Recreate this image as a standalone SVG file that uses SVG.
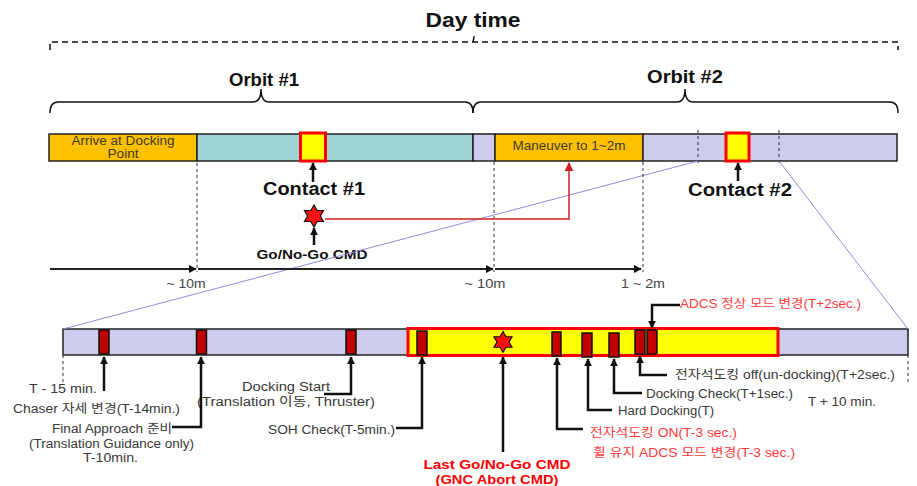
<svg xmlns="http://www.w3.org/2000/svg" width="917" height="486" viewBox="0 0 917 486">
<style>
.t{font-family:"Liberation Sans","Noto Sans CJK KR",Arial,sans-serif;}
.b{font-weight:bold;fill:#111;}
.s{font-size:12.5px;fill:#383838;}
.r{font-size:12.5px;fill:#ff3a3a;}
.seg{stroke:#222;stroke-width:1.5;}
.or{fill:#ffc000;}
.te{fill:#9fd3d6;}
.la{fill:#ccccec;}
.hl{fill:#ffff00;stroke:#ff0000;stroke-width:3;}
.mk{fill:#c00000;stroke:#111;stroke-width:1.5;}
.ar{fill:none;stroke:#111;stroke-width:2.5;}
.tl{fill:none;stroke:#222;stroke-width:2;}
.dv{fill:none;stroke:#333;stroke-width:1;stroke-dasharray:3,3;}
.bl{fill:none;stroke:#8c8ce0;stroke-width:1;}
.star{fill:#ff1010;stroke:#111;stroke-width:1.2;}
</style>
<defs>
<marker id="ah" viewBox="0 0 10 10" refX="9" refY="5" markerWidth="8" markerHeight="8" markerUnits="userSpaceOnUse" orient="auto"><path d="M0,0 L10,5 L0,10 z" fill="#111"/></marker>
<marker id="ahr" viewBox="0 0 10 10" refX="9" refY="5" markerWidth="9" markerHeight="9" markerUnits="userSpaceOnUse" orient="auto"><path d="M0,0 L10,5 L0,10 z" fill="#cc2020"/></marker>
<path id="star6" d="M0,-11 L3.18,-5.5 L9.53,-5.5 L6.35,0 L9.53,5.5 L3.18,5.5 L0,11 L-3.18,5.5 L-9.53,5.5 L-6.35,0 L-9.53,-5.5 L-3.18,-5.5 Z"/>
</defs>
<rect width="917" height="486" fill="#fff"/>

<g id="daytime">
<path d="M50,50 L50,42 L898,42 L898,50 M473,42 L475,32" fill="none" stroke="#111" stroke-width="1.5" stroke-dasharray="6,4"/>
<text class="t b" x="473" y="27" font-size="21" text-anchor="middle" textLength="95" lengthAdjust="spacingAndGlyphs">Day time</text>
</g>

<g id="orbit1">
<path d="M50,113 Q50,102 58,102 L253,102 Q261,102 261,89 Q261,102 269,102 L465,102 Q473,102 473,113" fill="none" stroke="#111" stroke-width="1.5"/>
<text class="t b" x="264" y="86" font-size="18" text-anchor="middle" textLength="70" lengthAdjust="spacingAndGlyphs">Orbit #1</text>
</g>
<g id="orbit2">
<path d="M473,113 Q473,102 481,102 L677,102 Q685,102 685,89 Q685,102 693,102 L890,102 Q898,102 898,113" fill="none" stroke="#111" stroke-width="1.5"/>
<text class="t b" x="685" y="83" font-size="18" text-anchor="middle" textLength="76" lengthAdjust="spacingAndGlyphs">Orbit #2</text>
</g>

<g id="topbar">
<rect class="seg or" x="49" y="134" width="148" height="27"/>
<rect class="seg te" x="197" y="134" width="276" height="27"/>
<rect class="seg la" x="473" y="134" width="22" height="27"/>
<rect class="seg or" x="495" y="134" width="148" height="27"/>
<rect class="seg la" x="643" y="134" width="254" height="27"/>
<text class="t" x="123" y="145" font-size="12" fill="#3d3a2a" text-anchor="middle" textLength="103" lengthAdjust="spacingAndGlyphs">Arrive at Docking</text>
<text class="t" x="123" y="158" font-size="12" fill="#3d3a2a" text-anchor="middle" textLength="31" lengthAdjust="spacingAndGlyphs">Point</text>
<text class="t" x="569" y="150" font-size="12" fill="#3d3a2a" text-anchor="middle" textLength="113" lengthAdjust="spacingAndGlyphs">Maneuver to 1~2m</text>
<path class="dv" d="M698,130 L698,163 M779,130 L779,163"/>
</g>

<g id="contact1">
<rect class="hl" x="300.5" y="133" width="25" height="28"/>
<text class="t b" x="314" y="195" font-size="18" text-anchor="middle" textLength="102" lengthAdjust="spacingAndGlyphs">Contact #1</text>
</g>
<g id="contact2">
<rect class="hl" x="726" y="133" width="23" height="28"/>
<text class="t b" x="740" y="196" font-size="18" text-anchor="middle" textLength="104" lengthAdjust="spacingAndGlyphs">Contact #2</text>
</g>

<g id="gonogo">
<use href="#star6" class="star" transform="translate(314,216)"/>
<text class="t b" x="312" y="259" font-size="13" text-anchor="middle" textLength="111" lengthAdjust="spacingAndGlyphs">Go/No-Go CMD</text>
</g>

<g id="timeline-labels">
<text class="t" x="186" y="288" font-size="12" fill="#444" text-anchor="middle" textLength="39" lengthAdjust="spacingAndGlyphs">~ 10m</text>
<text class="t" x="485" y="288" font-size="12" fill="#444" text-anchor="middle" textLength="41" lengthAdjust="spacingAndGlyphs">~ 10m</text>
<text class="t" x="643" y="288" font-size="12" fill="#444" text-anchor="middle" textLength="44" lengthAdjust="spacingAndGlyphs">1 ~ 2m</text>
</g>

<g id="bottombar">
<rect class="seg la" x="63" y="329" width="845" height="26"/>
<rect class="hl" x="408" y="328.5" width="370" height="27"/>
<rect class="mk" x="99" y="330" width="10" height="24"/>
<rect class="mk" x="196.5" y="330" width="10" height="24"/>
<rect class="mk" x="346" y="330" width="10" height="24"/>
<rect class="mk" x="417" y="331" width="10" height="24"/>
<rect class="mk" x="552" y="332" width="9" height="24"/>
<rect class="mk" x="582" y="333" width="10" height="24"/>
<rect class="mk" x="609" y="333" width="10" height="24"/>
<rect class="mk" x="635" y="330" width="10" height="24"/>
<rect class="mk" x="647" y="330" width="10" height="24"/>
<use href="#star6" class="star" transform="translate(503,342) scale(0.95)"/>
<path class="dv" d="M63,355 L63,382 M908,355 L908,384"/>
</g>

<g id="lbl-t15"><text class="t s" x="63" y="393" text-anchor="middle" textLength="68" lengthAdjust="spacingAndGlyphs">T - 15 min.</text></g>
<g id="lbl-chaser"><text class="t s" x="13" y="413" textLength="167" lengthAdjust="spacingAndGlyphs">Chaser 자세 변경(T-14min.)</text></g>
<g id="lbl-final">
<text class="t s" x="52" y="433" textLength="120" lengthAdjust="spacingAndGlyphs">Final Approach 준비</text>
<text class="t s" x="29" y="448" textLength="165" lengthAdjust="spacingAndGlyphs">(Translation Guidance only)</text>
<text class="t s" x="83" y="462" textLength="55" lengthAdjust="spacingAndGlyphs">T-10min.</text>
</g>
<g id="lbl-dockstart">
<text class="t s" x="242" y="391" textLength="88" lengthAdjust="spacingAndGlyphs">Docking Start</text>
<text class="t s" x="197" y="406" textLength="178" lengthAdjust="spacingAndGlyphs">(Translation 이동, Thruster)</text>
</g>
<g id="lbl-soh"><text class="t s" x="268" y="434" textLength="127" lengthAdjust="spacingAndGlyphs">SOH Check(T-5min.)</text></g>
<g id="lbl-last">
<text class="t" x="497" y="469" font-size="13.5" font-weight="bold" fill="#ff0000" text-anchor="middle" textLength="147" lengthAdjust="spacingAndGlyphs">Last Go/No-Go CMD</text>
<text class="t" x="497" y="484" font-size="13.5" font-weight="bold" fill="#ff0000" text-anchor="middle" textLength="123" lengthAdjust="spacingAndGlyphs">(GNC Abort CMD)</text>
</g>
<g id="lbl-emon">
<text class="t r" x="590" y="437" textLength="147" lengthAdjust="spacingAndGlyphs">전자석도킹 ON(T-3 sec.)</text>
<text class="t r" x="593" y="457" textLength="202" lengthAdjust="spacingAndGlyphs">휠 유지 ADCS 모드 변경(T-3 sec.)</text>
</g>
<g id="lbl-hard"><text class="t s" x="618" y="415" textLength="96" lengthAdjust="spacingAndGlyphs">Hard Docking(T)</text></g>
<g id="lbl-check"><text class="t s" x="646" y="398" textLength="147" lengthAdjust="spacingAndGlyphs">Docking Check(T+1sec.)</text></g>
<g id="lbl-t10"><text class="t s" x="808" y="406" textLength="68" lengthAdjust="spacingAndGlyphs">T + 10 min.</text></g>
<g id="lbl-emoff"><text class="t s" x="675" y="379" textLength="220" lengthAdjust="spacingAndGlyphs">전자석도킹 off(un-docking)(T+2sec.)</text></g>
<g id="lbl-adcs"><text class="t r" x="680" y="308" textLength="181" lengthAdjust="spacingAndGlyphs">ADCS 정상 모드 변경(T+2sec.)</text></g>

<g id="connectors">
<path class="bl" d="M698,161 L63,329 M779,161 L908,329"/>
<path class="dv" d="M197,163 L197,272 M494,162 L494,272 M643,162 L643,272"/>
<path class="tl" d="M50,269 L196,269" marker-end="url(#ah)"/>
<path class="tl" d="M198,269 L493,269" marker-end="url(#ah)"/>
<path class="tl" d="M495,269 L641,269" marker-end="url(#ah)"/>
<path class="ar" stroke-width="2" d="M313,182 L313,163" marker-end="url(#ah)"/>
<path class="ar" stroke-width="2" d="M738,181 L738,163" marker-end="url(#ah)"/>
<path class="ar" stroke-width="2" d="M314,245 L314,228" marker-end="url(#ah)"/>
<path d="M325,219 L569,219 L569,163" fill="none" stroke="#cc2020" stroke-width="1.5" marker-end="url(#ahr)"/>
<path class="ar" d="M104,391 L104,357" marker-end="url(#ah)"/>
<path class="ar" d="M172,427 L201,427 L201,357" marker-end="url(#ah)"/>
<path class="ar" d="M324,394 L351,394 L351,357" marker-end="url(#ah)"/>
<path class="ar" d="M396,428 L422,428 L422,357" marker-end="url(#ah)"/>
<path class="ar" d="M503,452 L503,357" marker-end="url(#ah)"/>
<path class="ar" d="M583,429 L557,429 L557,358" marker-end="url(#ah)"/>
<path class="ar" d="M612,410 L588,410 L588,359" marker-end="url(#ah)"/>
<path class="ar" d="M642,393 L614,393 L614,359" marker-end="url(#ah)"/>
<path class="ar" d="M667,375 L640,375 L640,356" marker-end="url(#ah)"/>
<path class="ar" d="M680,305 L652,305 L652,328" marker-end="url(#ah)"/>
</g>
</svg>
